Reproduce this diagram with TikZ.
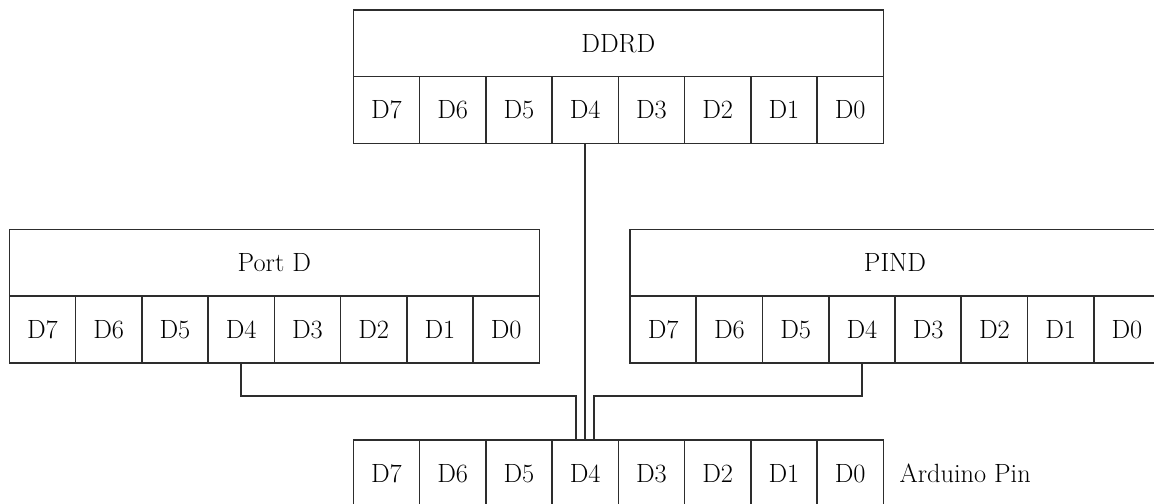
\documentclass[tikz,border=0pt]{standalone}
\usepackage{tikz}
\usetikzlibrary{calc}
\usetikzlibrary{positioning}
\definecolor{inkline}{RGB}{45, 45, 45}

\tikzset{
  bitcell/.style={draw=inkline, line width=0.9pt, minimum width=1.325cm, minimum height=1.34cm,
    inner sep=0pt, outer sep=0pt, anchor=north west, font=\fontsize{15}{18}\selectfont},
  reghead/.style={draw=inkline, line width=0.9pt, minimum width=10.6cm, minimum height=1.33cm,
    inner sep=0pt, outer sep=0pt, anchor=north west, font=\fontsize{15}{18}\selectfont},
  wire/.style={draw=inkline, line width=0.9pt}
}

\begin{document}
\begin{tikzpicture}
        \useasboundingbox (0,0) rectangle (23.08,-10.08);
        % register headers
        \node[reghead] (ddrd) at ( 7.066,-0.200) {DDRD};
        \node[reghead] (portd) at ( 0.186,-4.586) {Port D};
        \node[reghead] (pind) at (12.600,-4.586) {PIND};
        \coordinate (pins) at (7.066,-8.800);
        % bit cells
        \foreach \b [count=\i from 0] in {7,...,0} {
            \node[bitcell] (dd\b) at ([xshift=\i*1.325cm]ddrd.south west) {D\b};
            \node[bitcell] (pd\b) at ([xshift=\i*1.325cm]portd.south west) {D\b};
            \node[bitcell] (pi\b) at ([xshift=\i*1.325cm]pind.south west) {D\b};
            \node[bitcell] (ap\b) at ([xshift=\i*1.325cm]pins) {D\b};
        }
        \node[right=0.2cm of ap0, font=\fontsize{15}{18}\selectfont] (aplabel) {Arduino Pin};
        % connections to pin D4
        \draw[wire] (dd4.south) -- (ap4.north);
        \draw[wire] (pd4.south) -- ++(0,-0.66) -| ([xshift=-0.18cm]ap4.north);
        \draw[wire] (pi4.south) -- ++(0,-0.66) -| ([xshift=0.18cm]ap4.north);
\end{tikzpicture}
\end{document}
